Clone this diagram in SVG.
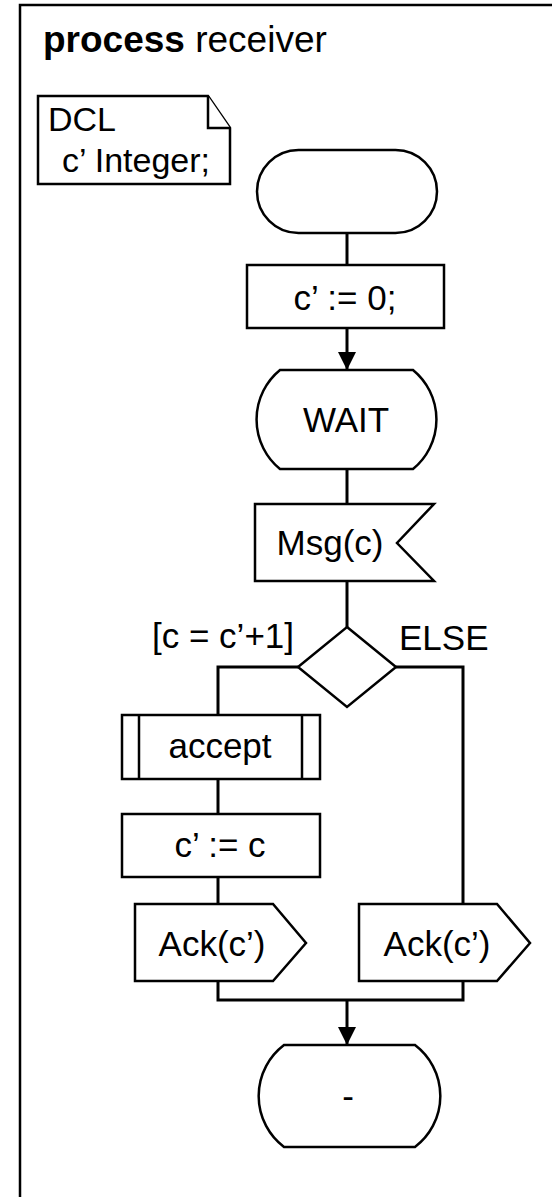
<svg xmlns="http://www.w3.org/2000/svg" width="552" height="1197" viewBox="0 0 552 1197">
  <style>
    .shape { fill: #fff; stroke: #000; stroke-width: 2.5; stroke-linejoin: miter; }
    .wire { fill: none; stroke: #000; stroke-width: 3; }
    .lbl { font-family: "Liberation Sans", Arial, sans-serif; font-size: 35px; fill: #000; }
    .mid { text-anchor: middle; }
  </style>
  <defs>
    <marker id="arrow" viewBox="0 0 18 18" markerWidth="18" markerHeight="18" refX="18" refY="9" orient="auto" markerUnits="userSpaceOnUse">
      <path d="M0,0 L18,9 L0,18 Z" fill="#000"/>
    </marker>
  </defs>

  <rect width="552" height="1197" fill="#fff"/>

  <!-- process frame (continues past the page edges) -->
  <g id="frame">
    <path d="M20,1210 L20,5 L570,5" fill="none" stroke="#000" stroke-width="2.5"/>
    <text x="43" y="52" class="lbl" style="font-size:37px"><tspan font-weight="bold">process</tspan> receiver</text>
  </g>

  <!-- connectors -->
  <g id="connectors">
    <line class="wire" x1="347" y1="233" x2="347" y2="265"/>
    <line class="wire" x1="347" y1="328" x2="347" y2="370" marker-end="url(#arrow)"/>
    <line class="wire" x1="347" y1="469" x2="347" y2="504"/>
    <line class="wire" x1="347" y1="581" x2="347" y2="627"/>
    <polyline class="wire" points="298,667 218,667 218,715"/>
    <polyline class="wire" points="396,667 463,667 463,904"/>
    <line class="wire" x1="218" y1="779" x2="218" y2="814"/>
    <line class="wire" x1="218" y1="877" x2="218" y2="904"/>
    <polyline class="wire" points="218,981 218,1000 463,1000 463,981"/>
    <line class="wire" x1="347" y1="1000" x2="347" y2="1045" marker-end="url(#arrow)"/>
  </g>

  <!-- declaration text symbol -->
  <g id="dcl">
    <path class="shape" d="M38,96 L208,96 L230,128 L230,184 L38,184 Z"/>
    <path class="shape" fill="none" d="M208,96 L208,128 L230,128"/>
    <text x="48" y="131" class="lbl" style="font-size:34px">DCL</text>
    <text x="62" y="172" class="lbl" style="font-size:34px">c’ Integer;</text>
  </g>

  <!-- start symbol -->
  <g id="start">
    <rect class="shape" x="257" y="150" width="180" height="83" rx="41.5" ry="41.5"/>
  </g>

  <!-- initial task -->
  <g id="init">
    <rect class="shape" x="247" y="265" width="197" height="63"/>
    <text x="345" y="310" class="lbl mid">c’ := 0;</text>
  </g>

  <!-- state WAIT -->
  <g id="wait">
    <path class="shape" d="M280,370 L413,370 A64,64 0 0 1 413,469 L280,469 A64,64 0 0 1 280,370 Z"/>
    <text x="346" y="432" class="lbl mid">WAIT</text>
  </g>

  <!-- input signal -->
  <g id="msg">
    <path class="shape" d="M255,504 L434,504 L397,543 L434,581 L255,581 Z"/>
    <text x="330" y="555" class="lbl mid">Msg(c)</text>
  </g>

  <!-- decision -->
  <g id="decision">
    <path class="shape" d="M347,627 L396,667 L347,707 L298,667 Z"/>
    <text x="152" y="648" class="lbl">[c = c’+1]</text>
    <text x="399" y="650" class="lbl">ELSE</text>
  </g>

  <!-- procedure call -->
  <g id="accept">
    <rect class="shape" x="122" y="715" width="198" height="64"/>
    <line class="shape" x1="139" y1="715" x2="139" y2="779"/>
    <line class="shape" x1="302" y1="715" x2="302" y2="779"/>
    <text x="220" y="758" class="lbl mid">accept</text>
  </g>

  <!-- assignment -->
  <g id="assign">
    <rect class="shape" x="122" y="814" width="198" height="63"/>
    <text x="220" y="857" class="lbl mid">c’ := c</text>
  </g>

  <!-- output signals -->
  <g id="ack-left">
    <path class="shape" d="M135,904 L273,904 L306,943 L273,981 L135,981 Z"/>
    <text x="212" y="956" class="lbl mid">Ack(c’)</text>
  </g>
  <g id="ack-right">
    <path class="shape" d="M359,904 L497,904 L530,943 L497,981 L359,981 Z"/>
    <text x="437" y="956" class="lbl mid">Ack(c’)</text>
  </g>

  <!-- next state (dash) -->
  <g id="next">
    <path class="shape" d="M284,1045 L415,1045 A64,64 0 0 1 415,1147 L284,1147 A64,64 0 0 1 284,1045 Z"/>
    <text x="348" y="1108" class="lbl mid">-</text>
  </g>
</svg>
